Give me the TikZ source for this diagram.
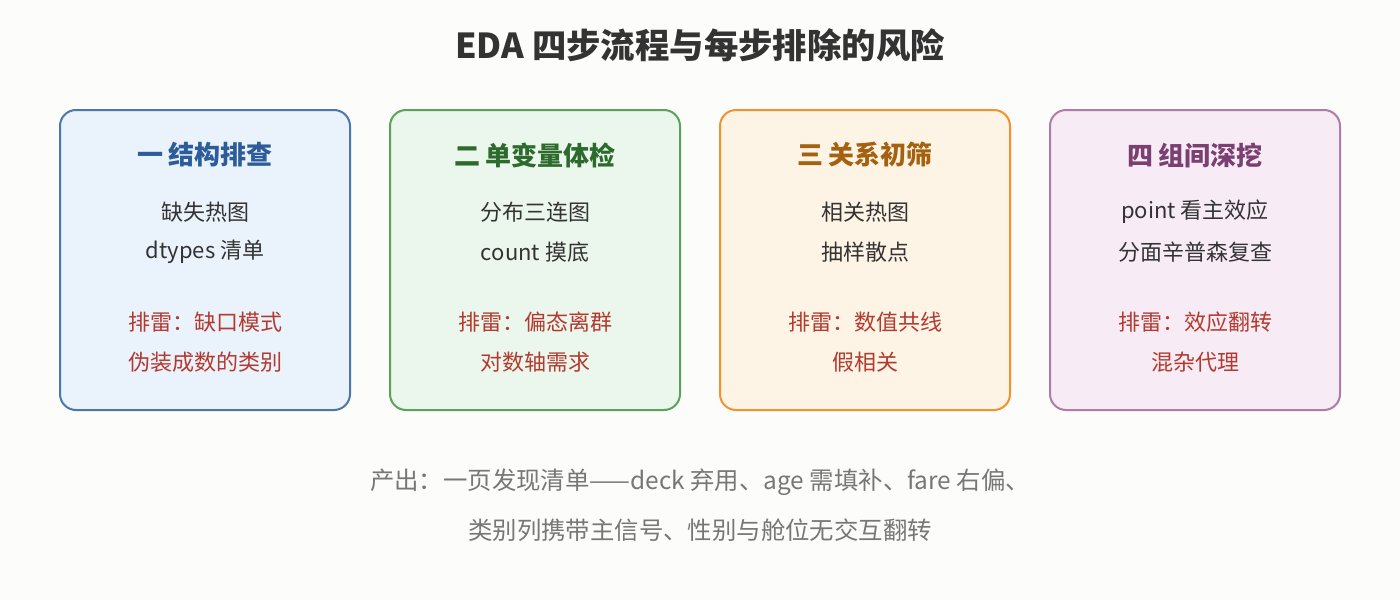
\documentclass[tikz,border=0pt]{standalone}
\usepackage{fontspec}
\setmainfont{Noto Sans CJK SC}
\usepackage{tikz}
\usetikzlibrary{positioning}
\definecolor{bgcol}{HTML}{FCFCFB}
\definecolor{bodycol}{HTML}{333333}
\definecolor{riskcol}{HTML}{B23A2E}
\definecolor{notecol}{HTML}{777777}
\definecolor{fillA}{HTML}{EAF2FB}
\definecolor{drawA}{HTML}{4A78AC}
\definecolor{headA}{HTML}{2C5C99}
\definecolor{fillB}{HTML}{EBF6EC}
\definecolor{drawB}{HTML}{5BA35B}
\definecolor{headB}{HTML}{2D6A2D}
\definecolor{fillC}{HTML}{FEF4E6}
\definecolor{drawC}{HTML}{F0922F}
\definecolor{headC}{HTML}{A4610F}
\definecolor{fillD}{HTML}{F7ECF5}
\definecolor{drawD}{HTML}{B07BA6}
\definecolor{headD}{HTML}{7B3F72}

\begin{document}
\begin{tikzpicture}[x=0.75pt, y=-0.75pt,
    stagebox/.style={draw, line width=1.5pt, rounded corners=12pt,
      minimum width=217.5pt, minimum height=225pt, inner sep=0pt},
    headtext/.style={font=\fontsize{19.5pt}{23pt}\selectfont\bfseries, inner sep=0pt},
    bodytext/.style={font=\fontsize{16.5pt}{20pt}\selectfont, text=bodycol, inner sep=0pt},
    risktext/.style={bodytext, text=riskcol},
    notetext/.style={font=\fontsize{18.3pt}{22pt}\selectfont, text=notecol, inner sep=0pt}]
      \fill[bgcol] (0,0) rectangle (1400,600);
      \useasboundingbox (0,0) rectangle (1400,600);

      \node[font=\fontsize{25.8pt}{31pt}\selectfont\bfseries, text=bodycol] (title) at (700,45) {EDA 四步流程与每步排除的风险};

      % stage boxes
      \node[stagebox, fill=fillA, draw=drawA] (box1) at (205,260) {};
      \node[stagebox, fill=fillB, draw=drawB] (box2) at (535,260) {};
      \node[stagebox, fill=fillC, draw=drawC] (box3) at (865,260) {};
      \node[stagebox, fill=fillD, draw=drawD] (box4) at (1195,260) {};

      \node[headtext, text=headA] (head1) at (205,155) {一 结构排查};
      \node[bodytext] (tool1a) at (205,212) {缺失热图};
      \node[bodytext] (tool1b) at (205,252) {dtypes 清单};
      \node[risktext] (risk1a) at (205,322) {排雷：缺口模式};
      \node[risktext] (risk1b) at (205,362) {伪装成数的类别};

      \node[headtext, text=headB] (head2) at (535,155) {二 单变量体检};
      \node[bodytext] (tool2a) at (535,212) {分布三连图};
      \node[bodytext] (tool2b) at (535,252) {count 摸底};
      \node[risktext] (risk2a) at (535,322) {排雷：偏态离群};
      \node[risktext] (risk2b) at (535,362) {对数轴需求};

      \node[headtext, text=headC] (head3) at (865,155) {三 关系初筛};
      \node[bodytext] (tool3a) at (865,212) {相关热图};
      \node[bodytext] (tool3b) at (865,252) {抽样散点};
      \node[risktext] (risk3a) at (865,322) {排雷：数值共线};
      \node[risktext] (risk3b) at (865,362) {假相关};

      \node[headtext, text=headD] (head4) at (1195,155) {四 组间深挖};
      \node[bodytext] (tool4a) at (1195,212) {point 看主效应};
      \node[bodytext] (tool4b) at (1195,252) {分面辛普森复查};
      \node[risktext] (risk4a) at (1195,322) {排雷：效应翻转};
      \node[risktext] (risk4b) at (1195,362) {混杂代理};

      % output note
      \node[notetext] (note1) at (700,482) {产出：一页发现清单——deck 弃用、age 需填补、fare 右偏、};
      \node[notetext] (note2) at (700,530) {类别列携带主信号、性别与舱位无交互翻转};
    \end{tikzpicture}
\end{document}
